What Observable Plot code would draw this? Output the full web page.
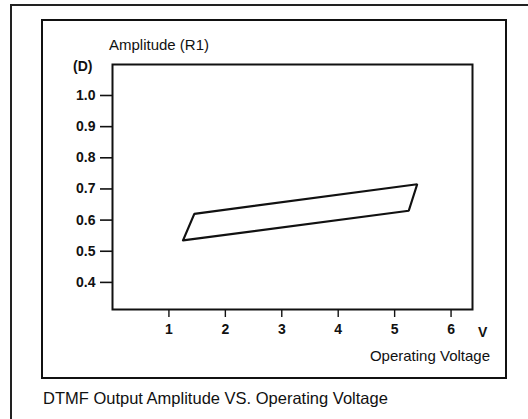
<!DOCTYPE html>
<html>
<head>
<meta charset="utf-8">
<script src="https://cdn.jsdelivr.net/npm/d3@7"></script>
<script src="https://cdn.jsdelivr.net/npm/@observablehq/plot@0.6"></script>
<style>
  html, body { margin: 0; padding: 0; background: #fff; overflow: hidden; }
  #wrap { position: relative; width: 528px; height: 419px; overflow: hidden; font-family: "Liberation Sans", Arial, sans-serif; color: #111; }
  .box { position: absolute; box-sizing: border-box; }
  .t { position: absolute; white-space: nowrap; }
  #chart { position: absolute; left: 0; top: 0; }
</style>
</head>
<body>
<div id="wrap">
  <div class="box" style="left:10px; top:4px; width:518px; height:415px; border-left:2px solid #222; border-top:2px solid #222;"></div>
  <div class="box" style="left:41px; top:19px; width:466px; height:360px; border:2px solid #111;"></div>
  <div id="chart"></div>
  <div class="t" id="ylab" style="left:109px; top:37px; font-size:15px; line-height:15px;"></div>
  <div class="t" id="yunit" style="left:73px; top:59px; font-size:14px; line-height:14px; font-weight:bold;"></div>
  <div class="t" id="xunit" style="left:478px; top:325px; font-size:14px; line-height:14px; font-weight:bold;"></div>
  <div class="t" id="xlab" style="right:38px; top:348px; font-size:15px; line-height:15px;"></div>
  <div class="t" id="caption" style="left:43px; top:390px; font-size:16.5px; line-height:16.5px;"></div>
</div>
<script>
// Data
const voltage   = [1.25, 1.45, 5.4, 5.25, 1.25];
const amplitude = [0.535, 0.62, 0.715, 0.63, 0.535];
const xTicks = [1, 2, 3, 4, 5, 6];
const yTicks = [0.4, 0.5, 0.6, 0.7, 0.8, 0.9, 1.0];
const yAxisTitle = "Amplitude (R1)";
const yUnit = "(D)";
const xUnit = "V";
const xAxisTitle = "Operating Voltage";
const captionText = "DTMF Output Amplitude VS. Operating Voltage";

const points = voltage.map((v, i) => ({v, a: amplitude[i]}));

const chart = Plot.plot({
  width: 528,
  height: 419,
  marginLeft: 112,
  marginRight: 56,
  marginTop: 64,
  marginBottom: 110,
  x: {domain: [0, 6.38]},
  y: {domain: [0.313, 1.0995]},
  style: {fontFamily: "'Liberation Sans', Arial, sans-serif", fontSize: "14px", color: "#111", background: "transparent"},
  marks: [
    Plot.frame({stroke: "#111", strokeWidth: 2}),
    Plot.axisY(yTicks, {tickSize: 12, tickPadding: 5, strokeWidth: 1.6, tickFormat: d => d.toFixed(1), label: null, fill: "#111", fontSize: 14, fontWeight: "bold"}),
    Plot.axisX(xTicks, {tickSize: 8, tickPadding: 7, strokeWidth: 1.4, label: null, fill: "#111", fontSize: 14, fontWeight: "bold"}),
    Plot.line(points, {x: "v", y: "a", stroke: "#111", strokeWidth: 2.2, strokeLinejoin: "miter"})
  ]
});
document.getElementById("chart").appendChild(chart);
document.getElementById("ylab").textContent = yAxisTitle;
document.getElementById("yunit").textContent = yUnit;
document.getElementById("xunit").textContent = xUnit;
document.getElementById("xlab").textContent = xAxisTitle;
document.getElementById("caption").textContent = captionText;
</script>
</body>
</html>
